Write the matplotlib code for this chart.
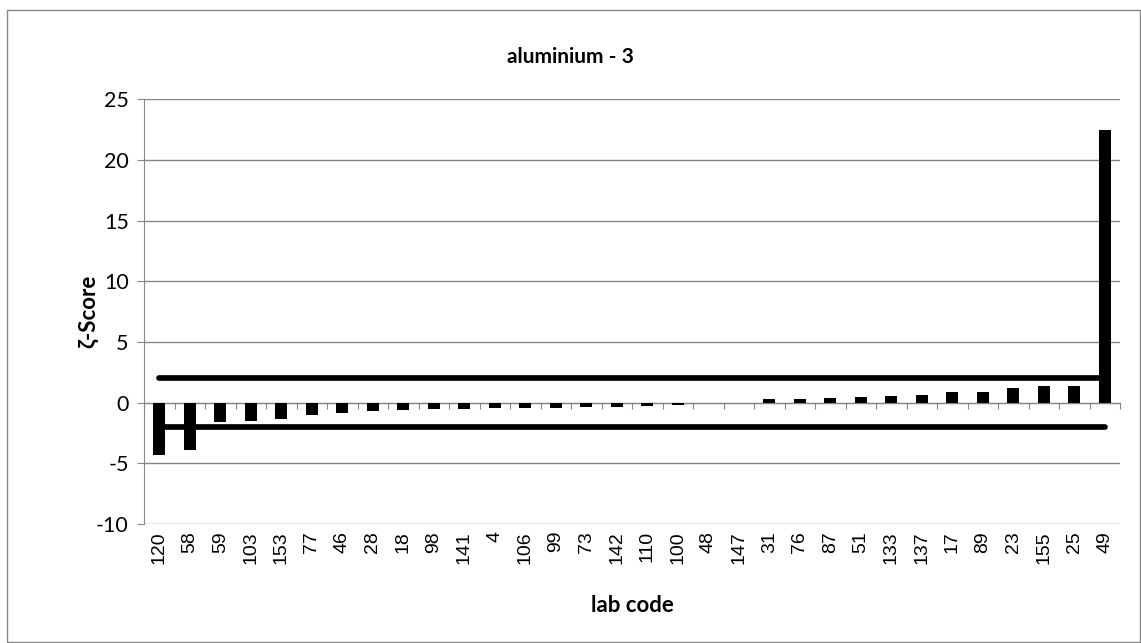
import numpy as np
import matplotlib
matplotlib.use("Agg")
import matplotlib.pyplot as plt
from matplotlib.patches import Rectangle

plt.rcParams["axes.unicode_minus"] = False

# lab codes and zeta-scores, sorted like the original sheet
labs = ["120", "58", "59", "103", "153", "77", "46", "28", "18", "98", "141",
        "4", "106", "99", "73", "142", "110", "100", "48", "147", "31", "76",
        "87", "51", "133", "137", "17", "89", "23", "155", "25", "49"]
zeta = [-4.35, -3.92, -1.58, -1.55, -1.32, -1.03, -0.86, -0.70, -0.62, -0.53,
        -0.51, -0.48, -0.42, -0.40, -0.38, -0.36, -0.30, -0.18, -0.03, -0.02,
        0.28, 0.28, 0.36, 0.44, 0.55, 0.63, 0.84, 0.86, 1.19, 1.35, 1.41, 22.45]
upper = [2] * len(labs)
lower = [-2] * len(labs)

grey = "#868686"

fig = plt.figure(figsize=(11.41, 6.43), dpi=100)
ax = fig.add_axes([144 / 1141, 1 - 524 / 643, 976 / 1141, 424.7 / 643])

x = np.arange(len(labs))
ax.plot(x, upper, color="black", lw=4.1, solid_capstyle="round", zorder=2)
ax.plot(x, lower, color="black", lw=4.1, solid_capstyle="round", zorder=2)
ax.bar(x, zeta, width=0.4, color="black", zorder=3)

ax.set_xlim(-0.5, len(labs) - 0.5)
ax.set_ylim(-10, 25)
ax.set_yticks(np.arange(-10, 26, 5))
ax.grid(axis="y", color=grey, lw=1)
ax.set_axisbelow(True)

for s in ["top", "right", "bottom"]:
    ax.spines[s].set_visible(False)
ax.spines["left"].set_color(grey)

ax.tick_params(axis="y", direction="out", length=5, color=grey, pad=6,
               labelsize=15.5)
for t in ax.get_yticklabels():
    t.set_family(["Lato", "DejaVu Sans"])

ax.set_xticks(x)
ax.set_xticklabels(labs, rotation=90, family="Liberation Sans", fontsize=14,
                   va="top")
ax.tick_params(axis="x", length=0, pad=5)

# zero axis with tick marks between categories
zero_ax = ax.secondary_xaxis(10 / 35)
zero_ax.set_xticks(np.arange(-0.5, len(labs), 1.0))
zero_ax.set_xticklabels([])
zero_ax.tick_params(direction="out", length=4, color=grey)
zero_ax.spines["bottom"].set_color(grey)

fig.text(570 / 1141, 1 - 57 / 643, "aluminium - 3", fontsize=15,
         fontweight="bold", family=["Lato", "DejaVu Sans"],
         ha="center", va="center")
ax.set_ylabel("ζ-Score", fontsize=16, fontweight="bold",
              family=["Lato", "DejaVu Sans"])
ax.yaxis.set_label_coords((88 - 144) / 976, 0.5)
ax.yaxis.label.set_va("center")
ax.set_xlabel("lab code", fontsize=16, fontweight="bold",
              family=["Lato", "DejaVu Sans"])
ax.xaxis.set_label_coords(0.5, (524 - 606) / 424.7)
ax.xaxis.label.set_va("center")

fig.patches.append(Rectangle((7 / 1141, 1 / 643), 1133 / 1141, 632 / 643,
                             transform=fig.transFigure, fill=False,
                             edgecolor=grey, lw=1))

fig.savefig("out.png", dpi=100)
